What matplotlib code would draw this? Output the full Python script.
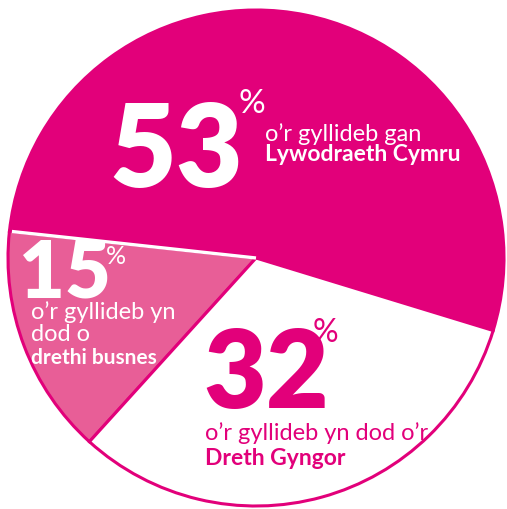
import numpy as np
import matplotlib.pyplot as plt

# budget shares (per cent)
labels = ["Llywodraeth Cymru", "drethi busnes", "Dreth Gyngor"]
shares = [53, 15, 32]

magenta = "#E2007A"
pink = "#E85E97"
white = "#FFFFFF"
colors = [magenta, pink, white]

W, H = 507, 510
cx, cy, r = 256, 259, 248
start = -17

plt.rcParams["font.family"] = ["Lato", "DejaVu Sans"]

fig = plt.figure(figsize=(W / 100, H / 100), dpi=100)
ax = fig.add_axes([0, 0, 1, 1])

wedges, _ = ax.pie(shares, colors=colors, startangle=start, counterclock=True,
                   radius=1, wedgeprops=dict(edgecolor=magenta, linewidth=2.2))

# white divider between the first two slices
theta = np.deg2rad(start + 360 * shares[0] / sum(shares))
ax.plot([0, 0.99 * np.cos(theta)], [0, 0.99 * np.sin(theta)], color=white, lw=2.4,
        solid_capstyle="butt")

ax.set_aspect("auto")
ax.set_xlim(-cx / r, (W - cx) / r)
ax.set_ylim((cy - H) / r, cy / r)
ax.axis("off")


def put(x, y, s, size, color, weight="normal"):
    fig.text(x / W, 1 - y / H, s, fontsize=size, color=color, fontweight=weight,
             ha="left", va="baseline")


# 53 %
put(109, 187, f"{shares[0]}", 83, white, "heavy")
put(239, 113, "%", 24, white)
put(265, 141, "o\u2019r gyllideb gan", 17, white)
put(265, 161, "Lywodraeth Cymru", 16.5, white, "bold")

# 15 %
put(19, 297, f"{shares[1]}", 57, white, "heavy")
put(106, 264, "%", 18, white)
put(31, 319, "o\u2019r gyllideb yn", 17, white)
put(31, 341, "dod o", 17, white)
put(31, 364, "drethi busnes", 15, white, "bold")

# 32 %
put(203, 408, f"{shares[2]}", 78, magenta, "heavy")
put(313, 342, "%", 23, magenta)
put(205, 440, "o\u2019r gyllideb yn dod o\u2019r", 17, magenta)
put(205, 465, "Dreth Gyngor", 16.5, magenta, "bold")

fig.savefig("out.png", dpi=100)
